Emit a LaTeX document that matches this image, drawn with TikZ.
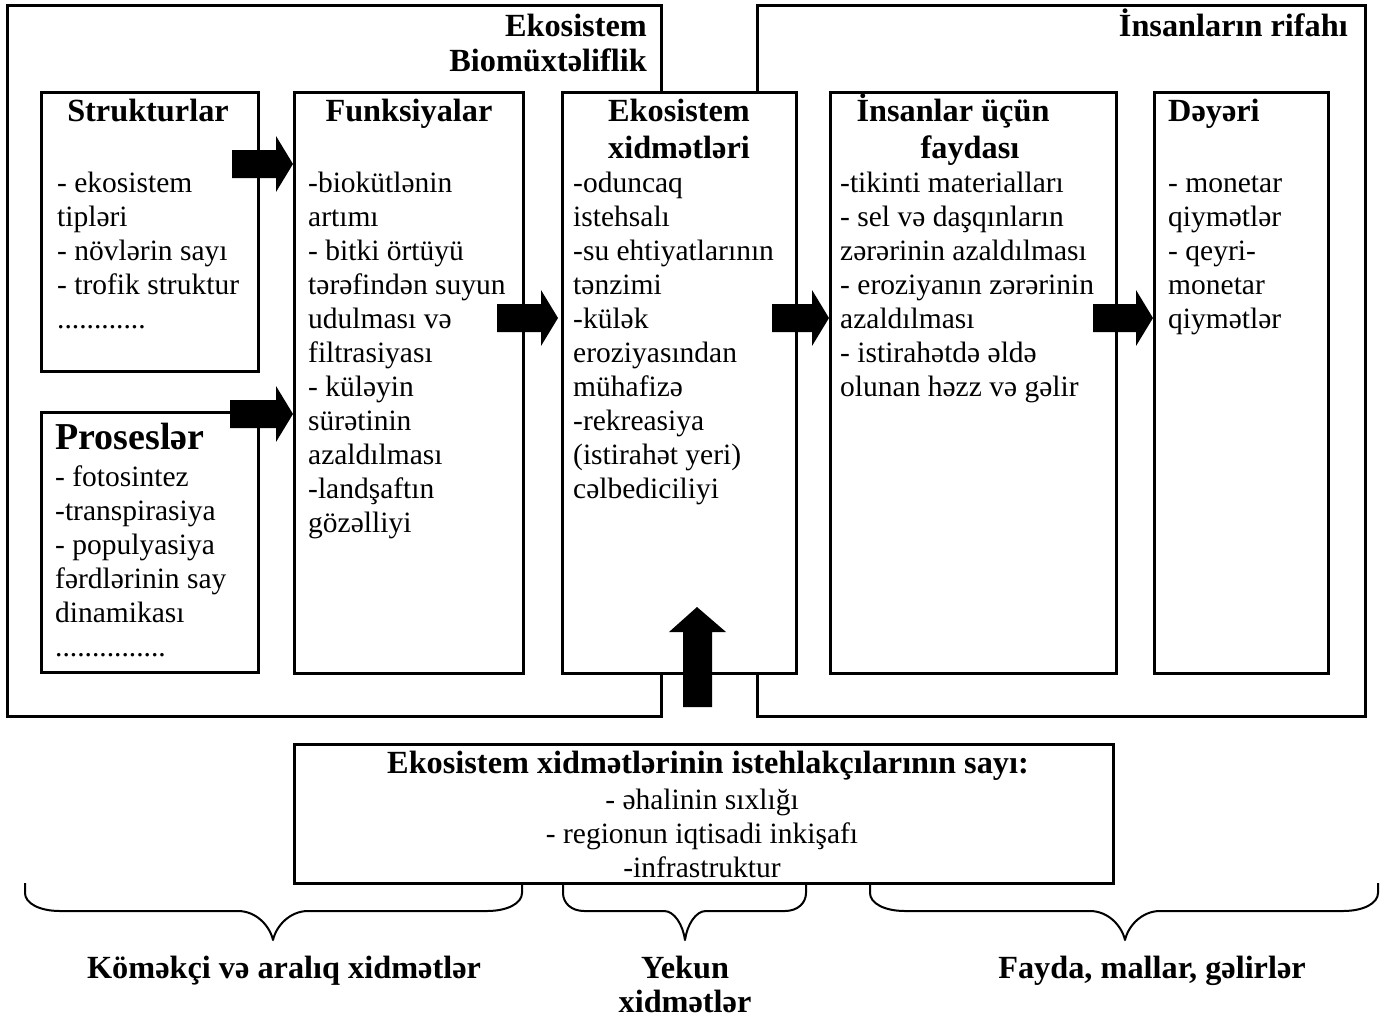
\documentclass[tikz,border=0pt]{standalone}
\usepackage{fontspec}
\setmainfont{Liberation Serif}
\newcommand\rarr[3]{\fill (#1,#3-14) -- (#2-17,#3-14) -- (#2-17,#3-28) -- (#2,#3) -- (#2-17,#3+28) -- (#2-17,#3+14) -- (#1,#3+14) -- cycle;}
\newcommand\brc[4]{\draw[brace] (#1,883) -- (#1,893) .. controls (#1,903) and (#1+0.4*#4,911) .. (#1+#4,911) -- (#2-#4,911) .. controls (#2-0.5*#4,911) and (#2-0.1*#4,925) .. (#2,940) .. controls (#2+0.1*#4,925) and (#2+0.5*#4,911) .. (#2+#4,911) -- (#3-#4,911) .. controls (#3-0.4*#4,911) and (#3,903) .. (#3,893) -- (#3,883);}
\begin{document}
\begin{tikzpicture}[x=1pt,y=-1pt,
  box/.style={draw,line width=2.5pt,anchor=north west,inner sep=0pt},
  frame/.style={line width=3pt},
  brace/.style={line width=2pt,line join=round},
  txt/.style={anchor=north west,inner sep=0pt,font=\fontsize{29.5}{34}\selectfont,align=left},
  ctxt/.style={anchor=north,inner sep=0pt,font=\fontsize{29.5}{34}\selectfont,align=center},
  ttl/.style={anchor=base,inner sep=0pt,font=\fontsize{32.3}{37}\selectfont\bfseries},
  rttl/.style={anchor=base east,inner sep=0pt,font=\fontsize{32.3}{37}\selectfont\bfseries},
  lttl/.style={anchor=base west,inner sep=0pt,font=\fontsize{32.3}{37}\selectfont\bfseries}
]
\useasboundingbox (0,0) rectangle (1395,1021);
% frames
\draw[frame] (661,91) -- (661,5) -- (7,5) -- (7,716) -- (661,716) -- (661,672);
\draw[frame] (757,91) -- (757,5) -- (1365,5) -- (1365,716) -- (757,716) -- (757,672);
\node[rttl] (hdr1) at (647,36) {Ekosistem};
\node[rttl] (hdr2) at (647,71) {Biomüxtəliflik};
\node[rttl] (hdr3) at (1348,36) {İnsanların rifahı};
% boxes
\node[box,minimum width=217,minimum height=279] (strk) at (40,91) {};
\node[box,minimum width=217,minimum height=260] (pros) at (40,411) {};
\node[box,minimum width=229,minimum height=581] (func) at (293,91) {};
\node[box,minimum width=234,minimum height=581] (eco) at (561,91) {};
\node[box,minimum width=286,minimum height=581] (ins) at (829,91) {};
\node[box,minimum width=174,minimum height=581] (dey) at (1153,91) {};
\node[box,minimum width=819,minimum height=139] (cons) at (293,743) {};
% titles
\node[ttl] (t1) at (148,121) {Strukturlar};
\node[ttl] (t2) at (409,121) {Funksiyalar};
\node[ttl] (t3a) at (679,121) {Ekosistem};
\node[ttl] (t3b) at (679,158) {xidmətləri};
\node[ttl] (t4a) at (953,121) {İnsanlar üçün};
\node[ttl] (t4b) at (970,158) {faydası};
\node[lttl] (t5) at (1168,121) {Dəyəri};
\node[anchor=base west,inner sep=0pt,font=\fontsize{38}{42}\selectfont\bfseries] (t6) at (55,449) {Proseslər};
% bodies
\node[txt] (b1) at (57,168.2) {\strut- ekosistem\\tipləri\\- növlərin sayı\\- trofik struktur\\............};
\node[txt] (b2) at (308,168.2) {\strut-biokütlənin\\artımı\\- bitki örtüyü\\tərəfindən suyun\\udulması və\\filtrasiyası\\- küləyin\\sürətinin\\azaldılması\\-landşaftın\\gözəlliyi};
\node[txt] (b3) at (573,168.2) {\strut-oduncaq\\istehsalı\\-su ehtiyatlarının\\tənzimi\\-külək\\eroziyasından\\mühafizə\\-rekreasiya\\(istirahət yeri)\\cəlbediciliyi};
\node[txt] (b4) at (840,168.2) {\strut-tikinti materialları\\- sel və daşqınların\\zərərinin azaldılması\\- eroziyanın zərərinin\\azaldılması\\- istirahətdə əldə\\olunan həzz və gəlir};
\node[txt] (b5) at (1168,168.2) {\strut- monetar\\qiymətlər\\- qeyri-\\monetar\\qiymətlər};
\node[txt] (b6) at (55,462.2) {\strut- fotosintez\\-transpirasiya\\- populyasiya\\fərdlərinin say\\dinamikası\\...............};
% consumer box text
\node[ttl] (ct) at (708,773) {Ekosistem xidmətlərinin istehlakçılarının sayı:};
\node[ctxt] (cb) at (702,785.2) {\strut- əhalinin sıxlığı\\- regionun iqtisadi inkişafı\\-infrastruktur};
% block arrows
\rarr{232}{293}{164}
\rarr{230}{293}{414}
\rarr{497}{558}{318}
\rarr{772}{829}{318}
\rarr{1093}{1153}{318}
\fill (683,707) -- (683,632) -- (669,632) -- (697,607) -- (726,632) -- (712,632) -- (712,707) -- cycle;
% braces
\brc{25}{273}{522}{35}
\brc{563}{685}{806}{21}
\brc{870}{1125}{1378}{35}
\node[ttl] (l1) at (284,978) {Köməkçi və aralıq xidmətlər};
\node[ttl] (l2) at (685,978) {Yekun};
\node[ttl] (l3) at (685,1012) {xidmətlər};
\node[ttl] (l4) at (1152,978) {Fayda, mallar, gəlirlər};
\end{tikzpicture}
\end{document}
